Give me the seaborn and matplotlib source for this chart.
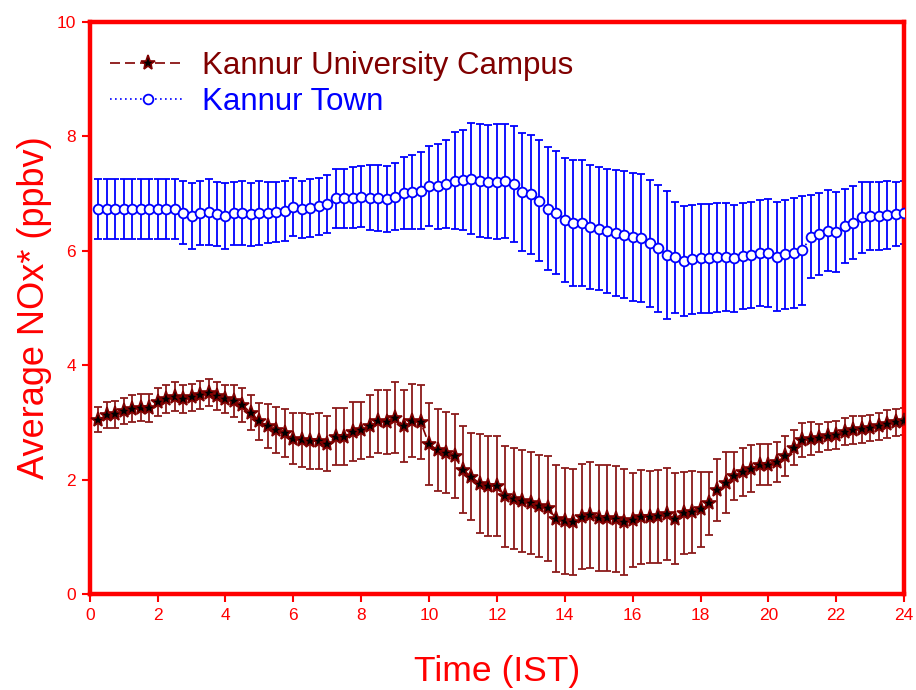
import numpy as np
import pandas as pd
import matplotlib
matplotlib.use("Agg")
import matplotlib.pyplot as plt
import seaborn as sns

# 15-minute time stamps over the day (hours, IST)
hours = np.arange(1, 97) * 0.25

# Kannur Town: mean NOx and standard deviation (ppbv)
town_mean = [
    6.73, 6.73, 6.73, 6.73, 6.73, 6.73, 6.73, 6.73, 6.73, 6.73,
    6.67, 6.61, 6.66, 6.68, 6.64, 6.61, 6.66, 6.67, 6.64, 6.66,
    6.67, 6.68, 6.70, 6.77, 6.73, 6.75, 6.78, 6.82, 6.92, 6.92,
    6.93, 6.95, 6.93, 6.92, 6.91, 6.95, 7.02, 7.03, 7.05, 7.13,
    7.13, 7.17, 7.23, 7.24, 7.26, 7.23, 7.21, 7.21,
    7.22, 7.17, 7.03, 6.99, 6.88, 6.74, 6.67, 6.54, 6.49, 6.49,
    6.42, 6.39, 6.35, 6.32, 6.28, 6.25, 6.23, 6.13, 6.05, 5.93,
    5.89, 5.83, 5.85, 5.87, 5.87, 5.89, 5.89, 5.87, 5.91, 5.93,
    5.96, 5.96, 5.90, 5.94, 5.97, 6.01, 6.25, 6.29, 6.35, 6.33,
    6.43, 6.49, 6.59, 6.61, 6.61, 6.63, 6.64, 6.67,
]
town_sd = [
    0.52, 0.52, 0.53, 0.52, 0.52, 0.52, 0.53, 0.52, 0.53, 0.52,
    0.55, 0.58, 0.56, 0.57, 0.56, 0.58, 0.55, 0.56, 0.55, 0.56,
    0.53, 0.52, 0.52, 0.51, 0.50, 0.50, 0.50, 0.51, 0.52, 0.52,
    0.53, 0.53, 0.57, 0.58, 0.58, 0.59, 0.63, 0.65, 0.67, 0.70,
    0.74, 0.77, 0.84, 0.88, 0.97, 0.98, 0.99, 1.00,
    0.99, 1.01, 1.03, 1.04, 1.06, 1.07, 1.08, 1.09, 1.10, 1.10,
    1.09, 1.08, 1.09, 1.10, 1.11, 1.12, 1.12, 1.11, 1.11, 1.12,
    0.97, 0.96, 0.95, 0.95, 0.95, 0.95, 0.94, 0.94, 0.93, 0.93,
    0.93, 0.94, 0.95, 0.95, 0.96, 0.95, 0.72, 0.72, 0.71, 0.70,
    0.65, 0.64, 0.62, 0.60, 0.60, 0.59, 0.56, 0.55,
]

# Kannur University Campus: mean NOx and standard deviation (ppbv)
campus_mean = [
    3.05, 3.13, 3.14, 3.20, 3.24, 3.26, 3.25, 3.36, 3.41, 3.45,
    3.41, 3.44, 3.48, 3.52, 3.46, 3.41, 3.38, 3.30, 3.17, 3.02,
    2.94, 2.87, 2.82, 2.72, 2.70, 2.67, 2.67, 2.63, 2.75, 2.75,
    2.84, 2.86, 2.94, 3.02, 3.01, 3.08, 2.94, 3.03, 3.01, 2.62,
    2.52, 2.47, 2.41, 2.17, 2.05, 1.93, 1.89, 1.89,
    1.71, 1.67, 1.63, 1.59, 1.54, 1.50, 1.32, 1.28, 1.26, 1.35,
    1.38, 1.33, 1.33, 1.31, 1.26, 1.29, 1.35, 1.35, 1.36, 1.40,
    1.32, 1.42, 1.43, 1.48, 1.59, 1.82, 1.95, 2.06, 2.14, 2.19,
    2.26, 2.26, 2.31, 2.41, 2.56, 2.69, 2.72, 2.73, 2.76, 2.78,
    2.84, 2.87, 2.88, 2.90, 2.93, 2.97, 3.00, 3.02,
]
campus_sd = [
    0.22, 0.22, 0.23, 0.22, 0.24, 0.24, 0.25, 0.24, 0.24, 0.25,
    0.24, 0.24, 0.24, 0.24, 0.25, 0.24, 0.28, 0.30, 0.31, 0.32,
    0.38, 0.40, 0.42, 0.44, 0.47, 0.48, 0.49, 0.48, 0.50, 0.50,
    0.51, 0.50, 0.54, 0.55, 0.56, 0.62, 0.63, 0.64, 0.64, 0.72,
    0.72, 0.71, 0.73, 0.76, 0.76, 0.86, 0.88, 0.88,
    0.88, 0.88, 0.89, 0.89, 0.90, 0.92, 0.93, 0.93, 0.93, 0.92,
    0.93, 0.92, 0.93, 0.93, 0.92, 0.82, 0.82, 0.81, 0.81, 0.80,
    0.80, 0.72, 0.72, 0.65, 0.55, 0.55, 0.54, 0.42, 0.42, 0.41,
    0.36, 0.36, 0.35, 0.35, 0.30, 0.30, 0.29, 0.25, 0.24, 0.24,
    0.24, 0.24, 0.24, 0.23, 0.24, 0.24, 0.24, 0.24,
]

x_ticks = list(range(0, 25, 2))
y_ticks = list(range(0, 11, 2))

df = pd.DataFrame({
    "hour": hours,
    "town": town_mean, "town_sd": town_sd,
    "campus": campus_mean, "campus_sd": campus_sd,
})

sns.set_theme(style="white")
plt.rcParams["font.family"] = ["Liberation Sans", "DejaVu Sans"]

fig = plt.figure(figsize=(9.16, 6.90), dpi=100)
ax = fig.add_axes([0.098, 0.139, 0.889, 0.829])

RED = "red"
CAMPUS = "#800000"
TOWN = "blue"

# standard-deviation bars
ax.errorbar(df["hour"], df["town"], yerr=df["town_sd"], fmt="none",
            ecolor=TOWN, elinewidth=1.3, capsize=3.2, capthick=1.3, zorder=2)
ax.errorbar(df["hour"], df["campus"], yerr=df["campus_sd"], fmt="none",
            ecolor="#8b1a1a", elinewidth=1.3, capsize=3.2, capthick=1.3, zorder=2)

# mean diurnal curves
sns.lineplot(data=df, x="hour", y="campus", ax=ax, color=CAMPUS,
             linestyle=(0, (6, 3)), linewidth=1.2, marker="*", markersize=11,
             markerfacecolor="black", markeredgecolor=CAMPUS, markeredgewidth=1.2,
             label="Kannur University Campus", zorder=4)
sns.lineplot(data=df, x="hour", y="town", ax=ax, color=TOWN,
             linestyle=(0, (1, 2)), linewidth=1.2, marker="o", markersize=7,
             markerfacecolor="white", markeredgecolor=TOWN, markeredgewidth=1.3,
             label="Kannur Town", zorder=3)

ax.set_xlim(0, 24)
ax.set_ylim(0, 10)
ax.set_xticks(x_ticks)
ax.set_yticks(y_ticks)
ax.grid(False)

for side in ["left", "right", "top", "bottom"]:
    ax.spines[side].set_color(RED)
    ax.spines[side].set_linewidth(3.2)
    ax.spines[side].set_visible(True)

ax.tick_params(axis="both", which="major", direction="out", length=6, width=1.5,
               color=RED, labelcolor=RED, labelsize=12.5, pad=4,
               bottom=True, left=True)

ax.set_xlabel("Time (IST)", color=RED, fontsize=25.5, labelpad=23)
ax.set_ylabel("Average NOx* (ppbv)", color=RED, fontsize=26, labelpad=3)

leg = ax.legend(loc="upper left", bbox_to_anchor=(0.0, 0.985), frameon=False,
                fontsize=22.5, handlelength=2.4, handletextpad=0.55,
                labelspacing=0.2, borderpad=0.3, borderaxespad=0.35,
                labelcolor=[CAMPUS, TOWN])

fig.savefig("out.png", dpi=100)
